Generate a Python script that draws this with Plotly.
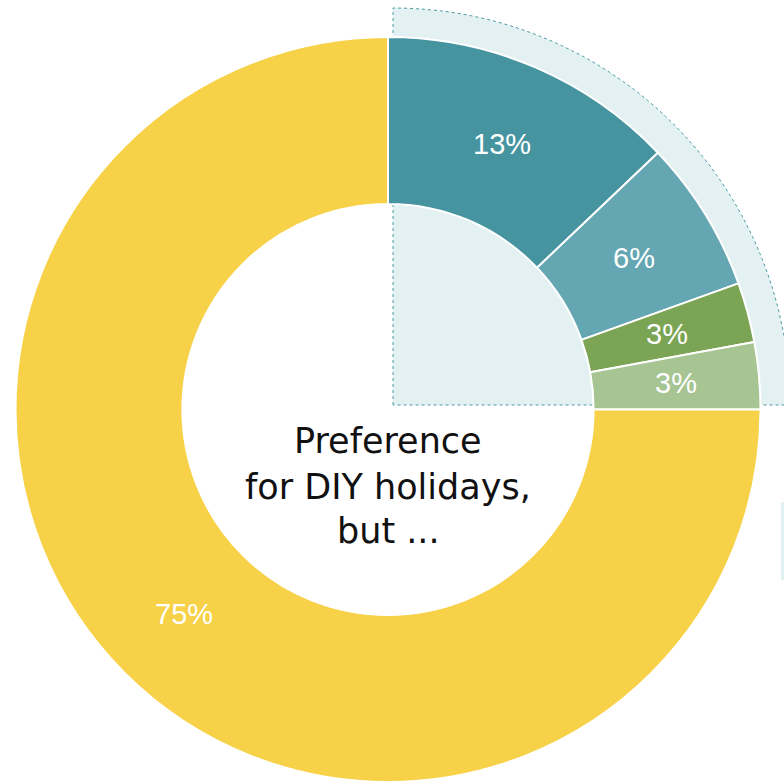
import numpy as np
import plotly.graph_objects as go

# ---- data ----
categories = ["Option A", "Option B", "Option C", "Option D", "DIY holidays"]
values = [12.9, 6.6, 2.6, 2.9, 75]
labels_text = ["13%", "6%", "3%", "3%", "75%"]
colors = ["#4594a0", "#64a6b2", "#7ba454", "#a7c493", "#f7d147"]
center_lines = ["Preference", "for DIY holidays,", "but ..."]

W, H = 784, 782
PCX, PCY = 388, 409.5          # pie centre in pixels
R_OUT = 372.5
HOLE = 0.552
R_MID = (R_OUT + R_OUT * HOLE) / 2

fig = go.Figure()

# hidden pixel axes for background decoration and labels
fig.update_xaxes(range=[0, W], visible=False, domain=[0, 1], fixedrange=True)
fig.update_yaxes(range=[H, 0], visible=False, domain=[0, 1], fixedrange=True)

# highlighted quarter background (decoration)
cx, cy, R = 393, 405, 397
th = np.linspace(np.pi / 2, 0, 80)
pts = [f"L{cx + R*np.cos(t):.1f},{cy - R*np.sin(t):.1f}" for t in th]
path = f"M{cx},{cy} " + " ".join(pts) + " Z"
fig.add_shape(type="path", path=path, xref="x", yref="y",
              fillcolor="#e3f1f2", line=dict(color="#4a9aa5", width=1, dash="dot"),
              layer="below")
fig.add_shape(type="rect", x0=781, x1=790, y0=502, y1=580, xref="x", yref="y",
              fillcolor="#e3f1f2", line=dict(width=0), layer="below")

fig.add_trace(go.Scatter(x=[0], y=[0], mode="markers", marker=dict(opacity=0),
                         hoverinfo="skip", showlegend=False))

fig.add_trace(go.Pie(
    labels=categories,
    values=values,
    textinfo="none",
    sort=False,
    direction="clockwise",
    rotation=0,
    hole=HOLE,
    marker=dict(colors=colors, line=dict(color="white", width=2)),
    domain=dict(x=[(PCX - R_OUT) / W, (PCX + R_OUT) / W], y=[0, 2 * R_OUT / H]),
    showlegend=False,
    hoverinfo="label+percent",
))

# slice labels at the middle of each slice (angles from cumulative values)
total = float(sum(values))
cum = 0.0
for v, t in zip(values, labels_text):
    mid = (cum + v / 2) / total
    ang = np.pi / 2 - 2 * np.pi * mid
    cum += v
    fig.add_annotation(
        text=t, x=PCX + R_MID * np.cos(ang), y=PCY - R_MID * np.sin(ang),
        xref="x", yref="y", showarrow=False, xanchor="center", yanchor="middle",
        font=dict(family="Liberation Sans, Arial, sans-serif", size=29, color="white"),
    )

for line, yy in zip(center_lines, [441, 487, 531]):
    fig.add_annotation(
        text=line, x=388, y=yy, xref="x", yref="y",
        showarrow=False, xanchor="center", yanchor="middle",
        font=dict(family="DejaVu Sans, sans-serif", size=35, color="#111111"),
    )

fig.update_layout(
    width=W, height=H,
    margin=dict(l=0, r=0, t=0, b=0),
    paper_bgcolor="white", plot_bgcolor="rgba(0,0,0,0)",
    showlegend=False,
)

fig.write_html("out.html")
